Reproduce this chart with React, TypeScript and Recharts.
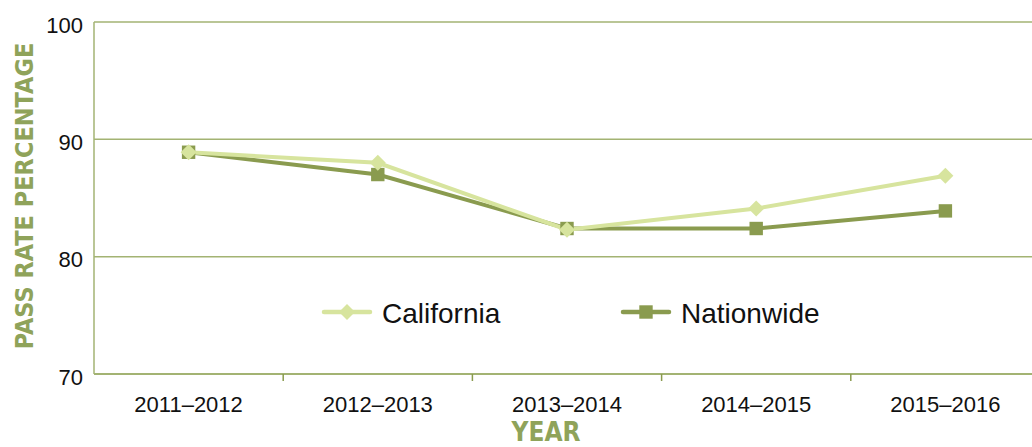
import React from "react";
import { LineChart, Line, XAxis, YAxis, CartesianGrid, Label } from "recharts";

const years = ["2011–2012", "2012–2013", "2013–2014", "2014–2015", "2015–2016"];
const california = [88.9, 88.0, 82.3, 84.1, 86.9];
const nationwide = [88.9, 87.0, 82.4, 82.4, 83.9];
const yTicks = [70, 80, 90, 100];
const seriesNames = ["California", "Nationwide"];
const seriesColors = ["#d7e49e", "#8a9b4f"];

const data = years.map((y, i) => ({ year: y, california: california[i], nationwide: nationwide[i] }));

const GRID = "#a3b373";
const LABEL_GREEN = "#8fa35a";
const FONT = "'Liberation Sans', Arial, sans-serif";
const NARROW = "'Liberation Sans Narrow', 'Arial Narrow', 'DejaVu Sans Condensed', sans-serif";

const Diamond = (props: any) => {
  const { cx, cy, fill, size = 8 } = props;
  if (cx == null || cy == null) return null;
  return <path d={`M${cx},${cy - size} L${cx + size},${cy} L${cx},${cy + size} L${cx - size},${cy} Z`} fill={fill} />;
};
const Square = (props: any) => {
  const { cx, cy, fill, size = 6.7 } = props;
  if (cx == null || cy == null) return null;
  return <rect x={cx - size} y={cy - size} width={size * 2} height={size * 2} fill={fill} />;
};

const XTick = (props: any) => {
  const { x, y, payload, width, visibleTicksCount, index } = props;
  const band = width / visibleTicksCount;
  return (
    <g>
      {index < visibleTicksCount - 1 && (
        <line x1={x + band / 2} x2={x + band / 2} y1={y} y2={y + 7} stroke={seriesColors[1]} strokeWidth={1.5} />
      )}
      <text x={x} y={y + 38} textAnchor="middle" fontSize={22} fontFamily={FONT} fill="#111">
        {payload.value}
      </text>
    </g>
  );
};

export default function App() {
  const half = 946 / years.length / 2;
  return (
    <div style={{ position: "absolute", left: 0, top: 0, width: 1032, height: 447, overflow: "hidden", background: "#fff" }}>
      <LineChart width={1040} height={447} data={data} margin={{ top: 22, right: 0, left: 0, bottom: 0 }}>
        <CartesianGrid vertical={false} stroke={GRID} strokeWidth={1.5} />
        <XAxis
          dataKey="year"
          height={73}
          tickSize={0}
          tickMargin={0}
          tick={<XTick />}
          axisLine={{ stroke: GRID, strokeWidth: 2 }}
          interval={0}
          padding={{ left: half, right: half }}
        >
          <Label
            value="YEAR"
            position="insideBottom"
            dx={-21}
            offset={6}
            style={{ fontSize: 26, fontWeight: 700, fill: LABEL_GREEN, fontFamily: NARROW }}
          />
        </XAxis>
        <YAxis
          width={94}
          domain={[70, 100]}
          ticks={yTicks}
          tickSize={0}
          tickMargin={11}
          axisLine={{ stroke: GRID, strokeWidth: 1.5 }}
          tick={{ fontSize: 22, fill: "#111", fontFamily: FONT, dy: 3 }}
        >
          <Label
            value="PASS RATE PERCENTAGE"
            angle={-90}
            position="insideLeft"
            offset={0}
            dx={24}
            dy={-2}
            style={{ fontSize: 25, fontWeight: 700, fill: LABEL_GREEN, fontFamily: NARROW, textAnchor: "middle" }}
          />
        </YAxis>
        <Line
          dataKey="nationwide"
          name={seriesNames[1]}
          stroke={seriesColors[1]}
          strokeWidth={4}
          dot={<Square fill={seriesColors[1]} />}
          activeDot={false}
          isAnimationActive={false}
        />
        <Line
          dataKey="california"
          name={seriesNames[0]}
          stroke={seriesColors[0]}
          strokeWidth={4}
          dot={<Diamond fill={seriesColors[0]} />}
          activeDot={false}
          isAnimationActive={false}
        />
      </LineChart>
      <svg width={1032} height={447} style={{ position: "absolute", left: 0, top: 0, pointerEvents: "none" }}>
        {seriesNames.map((name, i) => {
          const x0 = 322 + i * 299;
          const cy = 312;
          return (
            <g key={name}>
              <line x1={x0 + 2} x2={x0 + 48} y1={cy} y2={cy} stroke={seriesColors[i]} strokeWidth={4.5} strokeLinecap="round" />
              {i === 0 ? (
                <Diamond cx={x0 + 25} cy={cy} fill={seriesColors[i]} />
              ) : (
                <Square cx={x0 + 25} cy={cy} fill={seriesColors[i]} />
              )}
              <text x={x0 + 60} y={cy + 11} fontSize={28} fontFamily={FONT} fill="#111">
                {name}
              </text>
            </g>
          );
        })}
      </svg>
    </div>
  );
}
